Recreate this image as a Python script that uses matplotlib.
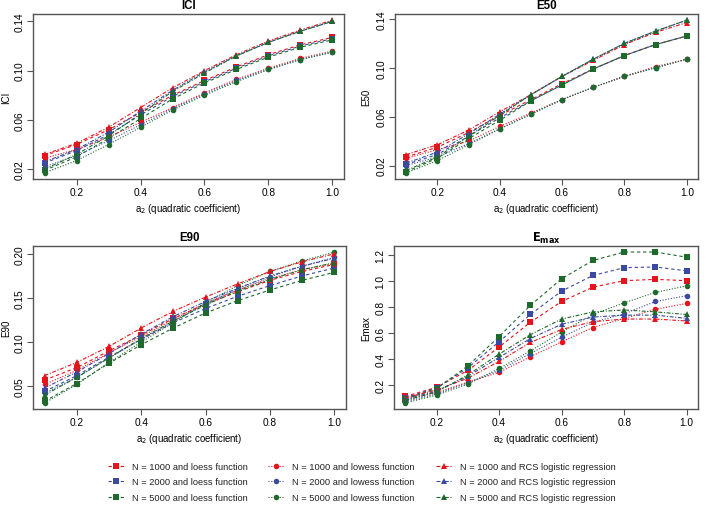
import matplotlib
matplotlib.use("Agg")
import matplotlib.pyplot as plt
from matplotlib.lines import Line2D
from matplotlib import font_manager

plt.rcParams['font.family'] = ['Liberation Sans', 'DejaVu Sans']

_names = {f.name for f in font_manager.fontManager.ttflist}
narrow = 'Liberation Sans Narrow' if 'Liberation Sans Narrow' in _names else None

a2 = [0.1, 0.2, 0.3, 0.4, 0.5, 0.6, 0.7, 0.8, 0.9, 1.0]
sample_sizes = [1000, 2000, 5000]
methods = ["loess", "lowess", "RCS"]

# ICI
ici_loess_1000 = [0.031, 0.040, 0.052, 0.066, 0.080, 0.092, 0.103, 0.113, 0.121, 0.127]
ici_loess_2000 = [0.025, 0.035, 0.048, 0.064, 0.079, 0.091, 0.102, 0.112, 0.120, 0.126]
ici_loess_5000 = [0.019, 0.030, 0.045, 0.061, 0.077, 0.090, 0.101, 0.111, 0.119, 0.125]
ici_lowess_1000 = [0.029, 0.036, 0.046, 0.058, 0.070, 0.082, 0.093, 0.102, 0.110, 0.116]
ici_lowess_2000 = [0.022, 0.031, 0.043, 0.056, 0.069, 0.081, 0.092, 0.101, 0.109, 0.115]
ici_lowess_5000 = [0.017, 0.027, 0.040, 0.054, 0.068, 0.080, 0.091, 0.101, 0.109, 0.115]
ici_rcs_1000 = [0.032, 0.041, 0.054, 0.070, 0.086, 0.100, 0.113, 0.124, 0.133, 0.141]
ici_rcs_2000 = [0.026, 0.036, 0.050, 0.067, 0.084, 0.099, 0.112, 0.123, 0.132, 0.140]
ici_rcs_5000 = [0.020, 0.032, 0.047, 0.065, 0.083, 0.098, 0.112, 0.123, 0.132, 0.140]

# E50
e50_loess_1000 = [0.027, 0.035, 0.047, 0.061, 0.074, 0.087, 0.099, 0.110, 0.119, 0.126]
e50_loess_2000 = [0.021, 0.029, 0.044, 0.059, 0.073, 0.086, 0.099, 0.110, 0.119, 0.126]
e50_loess_5000 = [0.015, 0.026, 0.042, 0.057, 0.073, 0.086, 0.099, 0.110, 0.119, 0.126]
e50_lowess_1000 = [0.026, 0.033, 0.040, 0.052, 0.063, 0.074, 0.084, 0.093, 0.101, 0.107]
e50_lowess_2000 = [0.020, 0.027, 0.038, 0.050, 0.062, 0.074, 0.084, 0.093, 0.100, 0.107]
e50_lowess_5000 = [0.014, 0.024, 0.037, 0.050, 0.062, 0.074, 0.084, 0.093, 0.100, 0.107]
e50_rcs_1000 = [0.029, 0.037, 0.049, 0.064, 0.078, 0.093, 0.106, 0.119, 0.129, 0.137]
e50_rcs_2000 = [0.022, 0.031, 0.046, 0.062, 0.078, 0.093, 0.107, 0.120, 0.130, 0.139]
e50_rcs_5000 = [0.016, 0.027, 0.044, 0.061, 0.078, 0.093, 0.107, 0.120, 0.130, 0.139]

# E90
e90_loess_1000 = [0.057, 0.071, 0.090, 0.108, 0.127, 0.143, 0.157, 0.170, 0.180, 0.188]
e90_loess_2000 = [0.044, 0.062, 0.083, 0.103, 0.122, 0.138, 0.152, 0.164, 0.175, 0.184]
e90_loess_5000 = [0.033, 0.053, 0.076, 0.097, 0.116, 0.133, 0.147, 0.159, 0.170, 0.179]
e90_lowess_1000 = [0.052, 0.068, 0.088, 0.106, 0.126, 0.144, 0.159, 0.172, 0.182, 0.189]
e90_lowess_2000 = [0.042, 0.060, 0.082, 0.103, 0.124, 0.143, 0.160, 0.174, 0.186, 0.196]
e90_lowess_5000 = [0.031, 0.052, 0.077, 0.100, 0.122, 0.145, 0.164, 0.180, 0.192, 0.202]
e90_rcs_1000 = [0.062, 0.077, 0.095, 0.116, 0.135, 0.151, 0.166, 0.180, 0.191, 0.200]
e90_rcs_2000 = [0.048, 0.066, 0.087, 0.109, 0.129, 0.146, 0.161, 0.175, 0.186, 0.195]
e90_rcs_5000 = [0.040, 0.060, 0.082, 0.104, 0.124, 0.142, 0.158, 0.171, 0.182, 0.190]

# Emax
emax_loess_1000 = [0.11, 0.18, 0.31, 0.49, 0.68, 0.84, 0.95, 1.00, 1.01, 1.00]
emax_loess_2000 = [0.10, 0.175, 0.33, 0.53, 0.74, 0.92, 1.04, 1.10, 1.105, 1.075]
emax_loess_5000 = [0.09, 0.17, 0.345, 0.57, 0.81, 1.015, 1.155, 1.22, 1.22, 1.18]
emax_lowess_1000 = [0.08, 0.14, 0.22, 0.295, 0.415, 0.53, 0.64, 0.71, 0.78, 0.825]
emax_lowess_2000 = [0.07, 0.13, 0.215, 0.31, 0.44, 0.565, 0.68, 0.745, 0.84, 0.885]
emax_lowess_5000 = [0.06, 0.12, 0.205, 0.325, 0.46, 0.605, 0.74, 0.83, 0.91, 0.96]
emax_rcs_1000 = [0.10, 0.16, 0.25, 0.38, 0.525, 0.625, 0.685, 0.705, 0.705, 0.69]
emax_rcs_2000 = [0.09, 0.15, 0.265, 0.41, 0.555, 0.665, 0.72, 0.735, 0.735, 0.71]
emax_rcs_5000 = [0.08, 0.145, 0.275, 0.435, 0.585, 0.705, 0.76, 0.775, 0.76, 0.74]

y_ticks_ici = [0.02, 0.06, 0.10, 0.14]
y_ticks_e50 = [0.02, 0.06, 0.10, 0.14]
y_ticks_e90 = [0.05, 0.10, 0.15, 0.20]
y_ticks_emax = [0.2, 0.4, 0.6, 0.8, 1.0, 1.2]
x_ticks = [0.2, 0.4, 0.6, 0.8, 1.0]

panels = [
    ("ICI", "ICI", y_ticks_ici, "{:.2f}",
     {"loess": [ici_loess_1000, ici_loess_2000, ici_loess_5000],
      "lowess": [ici_lowess_1000, ici_lowess_2000, ici_lowess_5000],
      "RCS": [ici_rcs_1000, ici_rcs_2000, ici_rcs_5000]}),
    ("E50", "E50", y_ticks_e50, "{:.2f}",
     {"loess": [e50_loess_1000, e50_loess_2000, e50_loess_5000],
      "lowess": [e50_lowess_1000, e50_lowess_2000, e50_lowess_5000],
      "RCS": [e50_rcs_1000, e50_rcs_2000, e50_rcs_5000]}),
    ("E90", "E90", y_ticks_e90, "{:.2f}",
     {"loess": [e90_loess_1000, e90_loess_2000, e90_loess_5000],
      "lowess": [e90_lowess_1000, e90_lowess_2000, e90_lowess_5000],
      "RCS": [e90_rcs_1000, e90_rcs_2000, e90_rcs_5000]}),
    (r"$\mathbf{E_{max}}$", "Emax", y_ticks_emax, "{:.1f}",
     {"loess": [emax_loess_1000, emax_loess_2000, emax_loess_5000],
      "lowess": [emax_lowess_1000, emax_lowess_2000, emax_lowess_5000],
      "RCS": [emax_rcs_1000, emax_rcs_2000, emax_rcs_5000]}),
]

colors = ['#E4141B', '#3A4A9E', '#1E6A2C']
markers = {"loess": "s", "lowess": "o", "RCS": "^"}
lstyles = {"loess": (0, (3, 2.5)), "lowess": (0, (1, 1.5)), "RCS": (0, (3.5, 1.5, 1, 1.5))}
legend_text = {"loess": "loess function", "lowess": "lowess function", "RCS": "RCS logistic regression"}

W, H = 709, 506
fig = plt.figure(figsize=(W / 100, H / 100), dpi=100)

boxes = [
    (33, 15, 344, 180),
    (395, 15, 698, 180),
    (33, 247, 346, 410),
    (394, 247, 698, 410),
]
ylabel_px = [6, 366, 6, 366]
frame_col = '#555555'

for (title, ylabel, yticks, fmt, data), (x0, y0, x1, y1), lx in zip(panels, boxes, ylabel_px):
    ax = fig.add_axes([x0 / W, 1 - y1 / H, (x1 - x0) / W, (y1 - y0) / H])
    for m in methods:
        for i, n in enumerate(sample_sizes):
            ax.plot(a2, data[m][i], color=colors[i], linestyle=lstyles[m],
                    linewidth=0.8, marker=markers[m], markersize=4,
                    markeredgewidth=0)
    ax.margins(x=0.04, y=0.04)
    ax.set_xticks(x_ticks)
    ax.set_xticklabels(["{:.1f}".format(v) for v in x_ticks], fontsize=7.3)
    ax.set_yticks(yticks)
    ax.set_yticklabels([fmt.format(v) for v in yticks], fontsize=7.3,
                       rotation=90, va='center')
    ax.tick_params(direction='out', length=4, width=0.8, color=frame_col, pad=2)
    for s in ax.spines.values():
        s.set_color(frame_col)
        s.set_linewidth(1.0)
    ax.set_title(title, fontsize=8.3, fontweight='bold', pad=4)
    ax.set_xlabel(r"a$_2$ (quadratic coefficient)", fontsize=6.9, labelpad=3)
    ax.set_ylabel(ylabel, fontsize=7.0, va='center')
    ax.yaxis.set_label_coords((lx - x0) / (x1 - x0), 0.5)

if narrow:
    leg_font = {'family': [narrow, 'Liberation Sans'], 'size': 8.0}
else:
    leg_font = {'family': ['Liberation Sans'], 'size': 6.7}

col_x = [108, 268, 436]
for j, m in enumerate(methods):
    handles = []
    labels = []
    for i, n in enumerate(sample_sizes):
        handles.append(Line2D([0], [0], color=colors[i], linestyle=lstyles[m],
                              linewidth=0.8, marker=markers[m], markersize=4,
                              markeredgewidth=0))
        labels.append("N = {} and {}".format(n, legend_text[m]))
    leg = fig.legend(handles, labels, loc='center left',
                     bbox_to_anchor=(col_x[j] / W, 1 - 483 / H),
                     frameon=False, prop=leg_font,
                     handlelength=1.7 * 6.7 / leg_font['size'],
                     handletextpad=0.85 * 6.7 / leg_font['size'],
                     labelspacing=0.7 * 6.7 / leg_font['size'],
                     borderaxespad=0, borderpad=0)
    for t in leg.get_texts():
        t.set_color('#222222')

fig.savefig("out.png", dpi=100)
